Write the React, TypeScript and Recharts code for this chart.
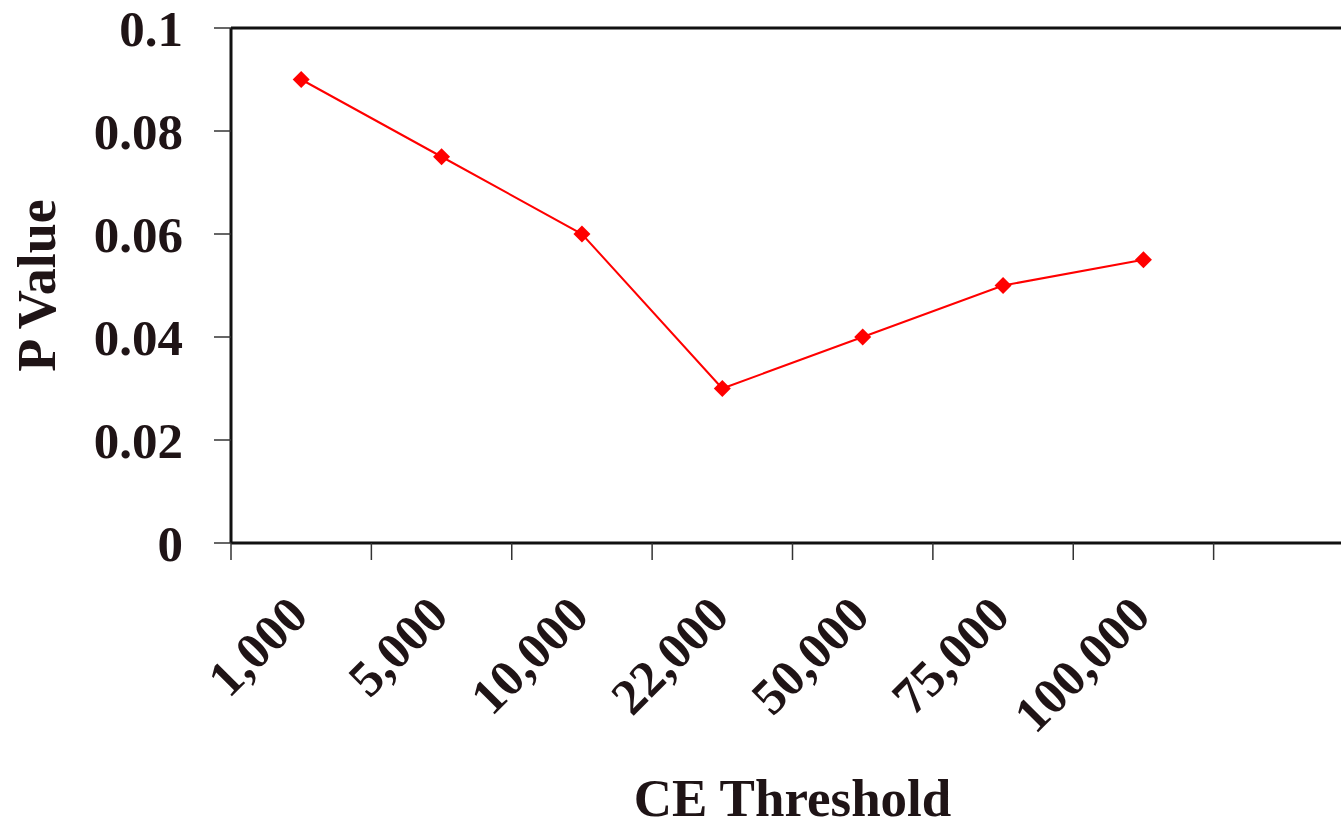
import { LineChart, Line, XAxis, YAxis, ReferenceLine } from "recharts";

const thresholds = ["1,000", "5,000", "10,000", "22,000", "50,000", "75,000", "100,000", ""];
const pValues = [0.09, 0.075, 0.06, 0.03, 0.04, 0.05, 0.055, null];
const yTicks = [0, 0.02, 0.04, 0.06, 0.08, 0.1];

const data = thresholds.map((t, i) => ({ name: t, p: pValues[i] }));

const CHART_W = 1360;
const CHART_H = 826;
const LEFT = 231;
const RIGHT_M = 6;
const PLOT_W = CHART_W - LEFT - RIGHT_M;
const BAND = PLOT_W / thresholds.length;
const INK = "#1f1416";
const FONT = "'Liberation Serif', 'Times New Roman', serif";

// tick marks sit on the band edges, labels at the band centres
const XTick = (props: any) => {
  const { x, payload } = props;
  return (
    <g>
      <line x1={x - BAND / 2} x2={x - BAND / 2} y1={543} y2={560} stroke="#333" strokeWidth={1.5} />
      <g transform={`translate(${x + 9},${618})`}>
        <text
          transform="rotate(-45)"
          textAnchor="end"
          fontFamily={FONT}
          fontWeight="bold"
          fontSize={51}
          fill={INK}
        >
          {payload.value}
        </text>
      </g>
    </g>
  );
};

const Diamond = (props: any) => {
  const { cx, cy, value } = props;
  if (value == null || cy == null) return <g />;
  const s = 8.5;
  return (
    <path
      d={`M${cx},${cy - s} L${cx + s},${cy} L${cx},${cy + s} L${cx - s},${cy} Z`}
      fill="#ff0000"
    />
  );
};

export default function App() {
  return (
    <div style={{ position: "absolute", left: 0, top: 0, width: 1341, height: 826, overflow: "hidden", background: "#fff" }}>
      <LineChart
        width={CHART_W}
        height={CHART_H}
        data={data}
        margin={{ top: 28, right: RIGHT_M, left: 0, bottom: 0 }}
      >
        <XAxis
          dataKey="name"
          scale="band"
          height={CHART_H - 543}
          interval={0}
          tickLine={false}
          axisLine={{ stroke: "#111", strokeWidth: 3 }}
          tick={<XTick />}
          label={{
            content: (p: any) => (
              <text
                x={p.viewBox.x + p.viewBox.width / 2}
                y={816}
                textAnchor="middle"
                fontFamily={FONT}
                fontWeight="bold"
                fontSize={53}
                fill={INK}
              >
                CE Threshold
              </text>
            ),
          }}
        />
        <YAxis
          width={LEFT}
          domain={[0, 0.1]}
          ticks={yTicks}
          interval={0}
          tickSize={17}
          tickMargin={31}
          tickFormatter={(v: number) => String(v)}
          tickLine={{ stroke: "#333", strokeWidth: 1.5 }}
          axisLine={{ stroke: "#111", strokeWidth: 3 }}
          tick={{ fontFamily: FONT, fontWeight: "bold", fontSize: 51, fill: INK }}
          label={{
            content: (p: any) => {
              const cy = p.viewBox.y + p.viewBox.height / 2;
              return (
                <text
                  transform={`translate(55,${cy}) rotate(-90)`}
                  textAnchor="middle"
                  fontFamily={FONT}
                  fontWeight="bold"
                  fontSize={54}
                  fill={INK}
                >
                  P Value
                </text>
              );
            },
          }}
        />
        <ReferenceLine y={0.1} stroke="#111" strokeWidth={3} />
        <Line
          type="linear"
          dataKey="p"
          stroke="#ff0000"
          strokeWidth={2}
          dot={<Diamond />}
          activeDot={false}
          isAnimationActive={false}
        />
      </LineChart>
    </div>
  );
}
